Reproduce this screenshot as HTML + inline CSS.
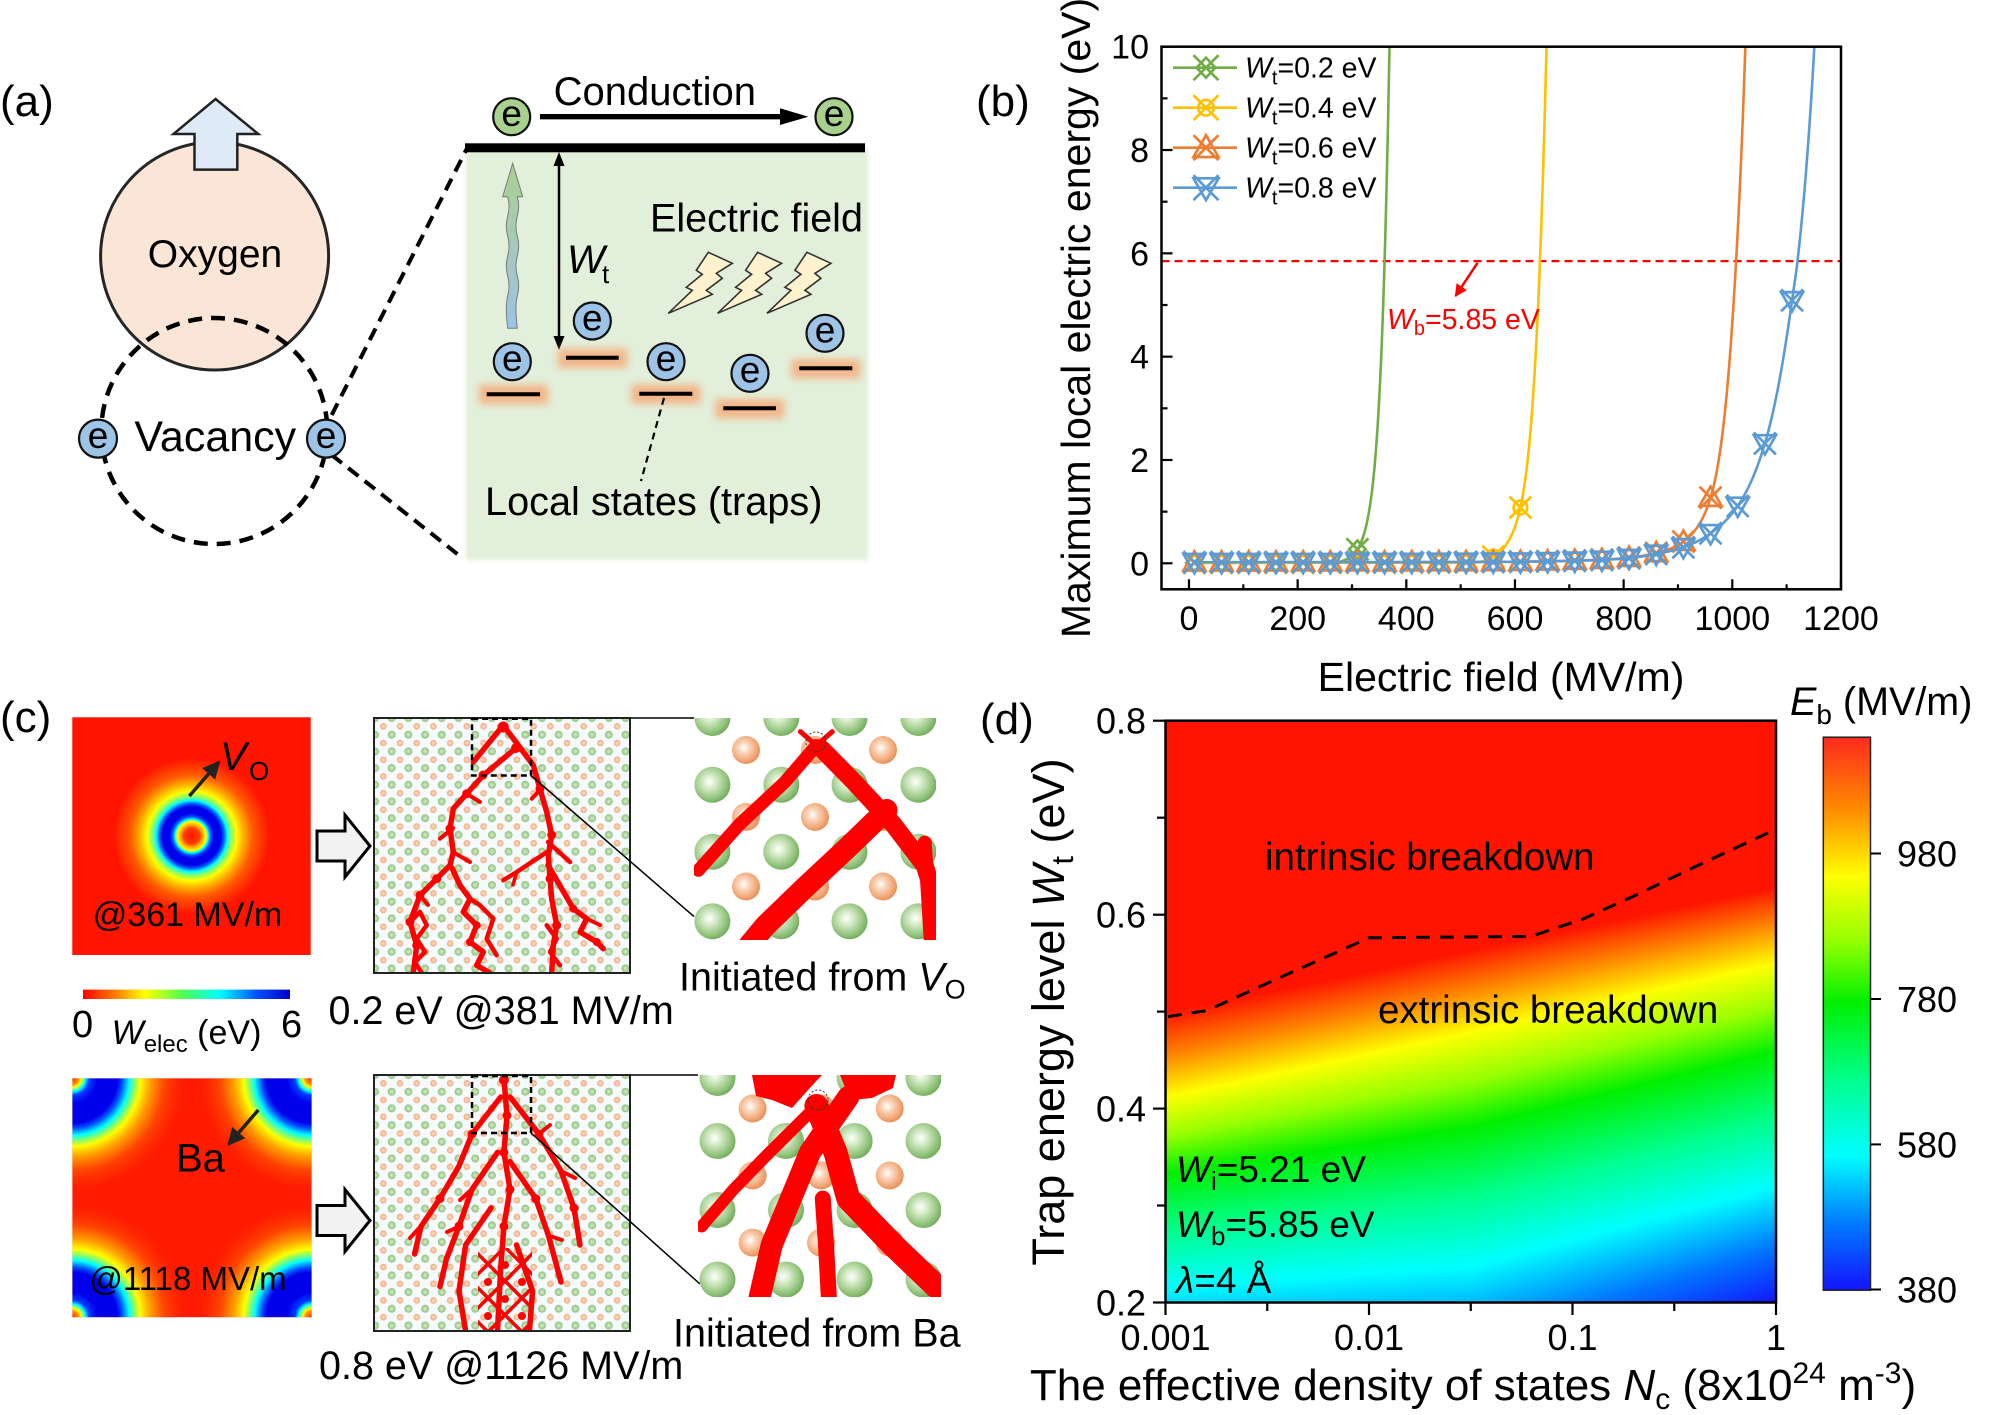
<!DOCTYPE html>
<html><head><meta charset="utf-8">
<style>
html,body{margin:0;padding:0;background:#fff;}
#wrap{position:relative;width:1997px;height:1415px;overflow:hidden;background:#fff;}
#hm{position:absolute;left:1166px;top:721px;width:610px;height:582px;}
#main{position:absolute;left:0;top:0;}
text{font-family:"Liberation Sans",Arial,sans-serif;fill:#000;}
</style></head><body><div id="wrap">
<canvas id="hm" width="610" height="582"></canvas>
<svg id="main" width="1997" height="1415" viewBox="0 0 1997 1415" xmlns="http://www.w3.org/2000/svg">
<defs>
<filter id="glow" x="-50%" y="-150%" width="200%" height="400%"><feGaussianBlur stdDeviation="4"/></filter>
<filter id="soft" x="-5%" y="-5%" width="110%" height="110%"><feGaussianBlur stdDeviation="2"/></filter>
<linearGradient id="wav" x1="0" y1="0" x2="0" y2="1"><stop offset="0" stop-color="#A9D18E"/><stop offset="1" stop-color="#9DC3E6"/></linearGradient>
<radialGradient id="ring" cx="191.7" cy="836" r="78" gradientUnits="userSpaceOnUse">
<stop offset="0" stop-color="#FF1400"/><stop offset="0.1" stop-color="#FF3C00"/><stop offset="0.143" stop-color="#FFAA00"/><stop offset="0.186" stop-color="#FFFF00"/><stop offset="0.214" stop-color="#00FFFF"/><stop offset="0.243" stop-color="#0064FF"/><stop offset="0.286" stop-color="#0000F0"/><stop offset="0.371" stop-color="#0000E6"/><stop offset="0.414" stop-color="#005AFF"/><stop offset="0.457" stop-color="#00FFFF"/><stop offset="0.5" stop-color="#78FF78"/><stop offset="0.571" stop-color="#FFFF00"/><stop offset="0.671" stop-color="#FFAA00"/><stop offset="0.786" stop-color="#FF5A00"/><stop offset="1" stop-color="#FF1400"/>
</radialGradient>
<radialGradient id="cTL" cx="72.3" cy="1078.3" r="125" gradientUnits="userSpaceOnUse">
<stop offset="0" stop-color="#FF2800"/><stop offset="0.048" stop-color="#FF8C00"/><stop offset="0.072" stop-color="#FFFF00"/><stop offset="0.104" stop-color="#00FFFF"/><stop offset="0.136" stop-color="#003CFF"/><stop offset="0.2" stop-color="#0000EB"/><stop offset="0.36" stop-color="#0000EB"/><stop offset="0.4" stop-color="#0050FF"/><stop offset="0.456" stop-color="#00FFFF"/><stop offset="0.496" stop-color="#78FF78"/><stop offset="0.544" stop-color="#FFFF00"/><stop offset="0.624" stop-color="#FFA000"/><stop offset="0.736" stop-color="#FF4600"/><stop offset="0.88" stop-color="#FF2000" stop-opacity="0.6"/><stop offset="1" stop-color="#FF1400" stop-opacity="0"/>
</radialGradient>
<radialGradient id="cTR" href="#cTL" cx="311.7" cy="1078.3"/>
<radialGradient id="cBL" href="#cTL" cx="72.3" cy="1317.3"/>
<radialGradient id="cBR" href="#cTL" cx="311.7" cy="1317.3"/>
<linearGradient id="cbar" x1="0" y1="0" x2="0" y2="1">
<stop offset="0" stop-color="#FF2A1E"/><stop offset="0.1316" stop-color="#FF8C00"/><stop offset="0.2513" stop-color="#FFFF00"/><stop offset="0.3684" stop-color="#96FF00"/><stop offset="0.4789" stop-color="#00F000"/><stop offset="0.6184" stop-color="#00FF8C"/><stop offset="0.7566" stop-color="#00FFFF"/><stop offset="0.8816" stop-color="#0078FF"/><stop offset="1" stop-color="#1414FF"/>
</linearGradient>
<linearGradient id="smallbar" x1="0" y1="0" x2="1" y2="0">
<stop offset="0" stop-color="#FF0000"/><stop offset="0.15" stop-color="#FF7800"/><stop offset="0.3" stop-color="#FFFF00"/><stop offset="0.48" stop-color="#50FF50"/><stop offset="0.66" stop-color="#00FFFF"/><stop offset="0.84" stop-color="#0050FF"/><stop offset="1" stop-color="#0000C8"/>
</linearGradient>
<radialGradient id="gs" cx="0.42" cy="0.42" r="0.62"><stop offset="0" stop-color="#FFFFFF"/><stop offset="0.3" stop-color="#D5EBC8"/><stop offset="0.75" stop-color="#93C47D"/><stop offset="1" stop-color="#6FA85A"/></radialGradient>
<radialGradient id="os" cx="0.42" cy="0.42" r="0.62"><stop offset="0" stop-color="#FFFFFF"/><stop offset="0.3" stop-color="#FAD7BE"/><stop offset="0.75" stop-color="#F2A676"/><stop offset="1" stop-color="#E58A50"/></radialGradient>
<radialGradient id="gsm" cx="0.5" cy="0.5" r="0.5"><stop offset="0" stop-color="#D8ECCD"/><stop offset="1" stop-color="#8FC27C"/></radialGradient>
<radialGradient id="osm" cx="0.5" cy="0.5" r="0.5"><stop offset="0" stop-color="#FCE3D2"/><stop offset="1" stop-color="#F2A878"/></radialGradient>
<clipPath id="clipB"><rect x="1161.5" y="46.7" width="679.5" height="542.6"/></clipPath>
<clipPath id="clipHm2"><rect x="72.3" y="1078.3" width="239.4" height="239"/></clipPath>
<clipPath id="clipM1"><rect x="374" y="718" width="256" height="255"/></clipPath>
<clipPath id="clipM2"><rect x="374" y="1075" width="256" height="256"/></clipPath>
<clipPath id="clipNet"><rect x="478" y="1248" width="54" height="83"/></clipPath>
<clipPath id="clipR1"><rect x="694" y="718" width="242" height="222"/></clipPath>
<clipPath id="clipR2"><rect x="698" y="1075" width="243" height="222"/></clipPath>
<marker id="ahk" viewBox="0 0 10 10" refX="9" refY="5" markerWidth="5" markerHeight="5" orient="auto"><path d="M0,0L10,5L0,10Z" fill="#222"/></marker>
<marker id="ahr" viewBox="0 0 10 10" refX="9" refY="5" markerWidth="5" markerHeight="5" orient="auto"><path d="M0,0L10,5L0,10Z" fill="#f00"/></marker>
</defs>

<!-- ================= PANEL (a) ================= -->
<text x="0" y="116" font-size="44">(a)</text>
<rect x="466" y="148" width="402" height="412" fill="#E2EFDA" filter="url(#soft)"/>
<line x1="331.7" y1="415" x2="467.5" y2="147.3" stroke="#000" stroke-width="4" stroke-dasharray="13 8"/>
<line x1="331.7" y1="455" x2="462.4" y2="558" stroke="#000" stroke-width="4" stroke-dasharray="13 8"/>
<circle cx="214.6" cy="256" r="114" fill="#FBE5D6" stroke="#262626" stroke-width="3"/>
<circle cx="214.3" cy="431" r="113" fill="none" stroke="#000" stroke-width="4.5" stroke-dasharray="14 9"/>
<path d="M215.6,99 L258.3,134 L237.3,134 L237.3,169.6 L194.5,169.6 L194.5,134 L173.5,134 Z" fill="#DEEBF7" stroke="#222" stroke-width="2.5" stroke-linejoin="miter"/>
<text x="215" y="267" font-size="39" text-anchor="middle">Oxygen</text>
<text x="215.3" y="451" font-size="43" text-anchor="middle">Vacancy</text>
<g stroke="#111" stroke-width="2.2">
<circle cx="98" cy="438.6" r="19" fill="#9DC3E6"/>
<circle cx="326" cy="438.6" r="19" fill="#9DC3E6"/>
</g>
<text x="98" y="448" font-size="37" text-anchor="middle">e</text>
<text x="326" y="448" font-size="37" text-anchor="middle">e</text>
<rect x="465" y="143.3" width="400" height="9" fill="#000"/>
<text x="553.6" y="105" font-size="40">Conduction</text>
<line x1="540" y1="116.7" x2="782" y2="116.7" stroke="#000" stroke-width="5.3"/>
<path d="M780,108.3 L808.3,116.7 L780,125 Z" fill="#000"/>
<g stroke="#111" stroke-width="2.2">
<circle cx="511.7" cy="116.7" r="18.5" fill="#A9D18E"/>
<circle cx="834" cy="116.7" r="18.5" fill="#A9D18E"/>
</g>
<text x="511.7" y="126" font-size="37" text-anchor="middle">e</text>
<text x="834" y="126" font-size="37" text-anchor="middle">e</text>
<path d="M512.7,163.3 L522.7,196.7 L517.3,196.7 Q520,206 517.3,216 Q514.6,226 517.3,236 Q520,246 517.3,256 Q514.6,266 517.3,276 Q520,286 517.3,296 Q514.6,306 517.3,328.3 L507.7,328.3 Q505,306 507.7,296 Q510.4,286 507.7,276 Q505,266 507.7,256 Q510.4,246 507.7,236 Q505,226 507.7,216 Q510.4,206 507.7,196.7 L502.7,196.7 Z" fill="url(#wav)" stroke="#7a7a7a" stroke-width="1"/>
<line x1="559" y1="162" x2="559" y2="340" stroke="#000" stroke-width="2.5"/>
<path d="M559,152 L564.5,166 L553.5,166 Z" fill="#000"/>
<path d="M559,350 L564.5,336 L553.5,336 Z" fill="#000"/>
<text x="567" y="273" font-size="40" font-style="italic">W</text>
<text x="602" y="283" font-size="26">t</text>
<text x="650" y="231.7" font-size="39.5">Electric field</text>
<g fill="#FFF2CC" stroke="#333" stroke-width="1.6" stroke-linejoin="miter">
<polygon transform="translate(708.3,252.3)" points="0,0 24,11 8,21 14,26 -2,38 4,42 -40,61 -16,38 -22,35 -6,22 -12,18"/>
<polygon transform="translate(757.6,252.3)" points="0,0 24,11 8,21 14,26 -2,38 4,42 -40,61 -16,38 -22,35 -6,22 -12,18"/>
<polygon transform="translate(806.9,252.3)" points="0,0 24,11 8,21 14,26 -2,38 4,42 -40,61 -16,38 -22,35 -6,22 -12,18"/>
</g>
<g fill="#F4B183" opacity="0.95" filter="url(#glow)">
<rect x="479" y="385" width="69" height="19"/>
<rect x="558" y="348.7" width="69" height="19"/>
<rect x="631.3" y="384.7" width="69" height="19"/>
<rect x="715.3" y="399.3" width="69" height="19"/>
<rect x="791.3" y="359.3" width="69" height="19"/>
</g>
<g stroke="#000" stroke-width="4">
<line x1="486.7" y1="394.3" x2="540" y2="394.3"/>
<line x1="566" y1="357.7" x2="618.7" y2="357.7"/>
<line x1="639.3" y1="393.7" x2="692.3" y2="393.7"/>
<line x1="723.3" y1="408.3" x2="776" y2="408.3"/>
<line x1="799.3" y1="368.3" x2="852.3" y2="368.3"/>
</g>
<g stroke="#111" stroke-width="2.2" fill="#9DC3E6">
<circle cx="512.3" cy="361.7" r="18.5"/>
<circle cx="592.3" cy="321" r="18.5"/>
<circle cx="666" cy="361.7" r="18.5"/>
<circle cx="750" cy="373.3" r="18.5"/>
<circle cx="825" cy="333.3" r="18.5"/>
</g>
<g font-size="37" text-anchor="middle">
<text x="512.3" y="371">e</text><text x="592.3" y="330.3">e</text><text x="666" y="371">e</text><text x="750" y="382.6">e</text><text x="825" y="342.6">e</text>
</g>
<line x1="664" y1="398" x2="641" y2="481" stroke="#000" stroke-width="2.2" stroke-dasharray="7 5"/>
<text x="485" y="515" font-size="39.7">Local states (traps)</text>

<!-- ================= PANEL (b) ================= -->
<text x="976" y="116" font-size="44">(b)</text>
<g id="bcurves" clip-path="url(#clipB)">
<line x1="1161.5" y1="261.1" x2="1841" y2="261.1" stroke="#FF0000" stroke-width="2.2" stroke-dasharray="8 5"/>
</g>
<line x1="1477.6" y1="262.8" x2="1455.5" y2="296" stroke="#f00" stroke-width="2.5" marker-end="url(#ahr)"/>
<text x="1387" y="329" font-size="28.5" style="fill:#f00"><tspan font-style="italic">W</tspan><tspan font-size="20" dy="6">b</tspan><tspan dy="-6">=5.85 eV</tspan></text>
<rect x="1161.5" y="46.7" width="679.5" height="542.6" fill="none" stroke="#000" stroke-width="2.5"/>
<g id="bticks" stroke="#000" stroke-width="2.2"></g>
<g font-size="34" text-anchor="end">
<text x="1149" y="575.3">0</text><text x="1149" y="472">2</text><text x="1149" y="368.7">4</text><text x="1149" y="265.4">6</text><text x="1149" y="162">8</text><text x="1149" y="58.7">10</text>
</g>
<g font-size="34" text-anchor="middle">
<text x="1189" y="630">0</text><text x="1297.7" y="630">200</text><text x="1406.3" y="630">400</text><text x="1515" y="630">600</text><text x="1623.6" y="630">800</text><text x="1732.3" y="630">1000</text><text x="1841" y="630">1200</text>
</g>
<text x="1501" y="691" font-size="41" text-anchor="middle">Electric field (MV/m)</text>
<text transform="translate(1090,318) rotate(-90)" font-size="41" text-anchor="middle">Maximum local electric energy (eV)</text>
<g id="blegend"></g>
<g font-size="28.5">
<text x="1245" y="77.7"><tspan font-style="italic">W</tspan><tspan font-size="20" dy="7">t</tspan><tspan dy="-7">=0.2 eV</tspan></text>
<text x="1245" y="117.7"><tspan font-style="italic">W</tspan><tspan font-size="20" dy="7">t</tspan><tspan dy="-7">=0.4 eV</tspan></text>
<text x="1245" y="157.7"><tspan font-style="italic">W</tspan><tspan font-size="20" dy="7">t</tspan><tspan dy="-7">=0.6 eV</tspan></text>
<text x="1245" y="197.7"><tspan font-style="italic">W</tspan><tspan font-size="20" dy="7">t</tspan><tspan dy="-7">=0.8 eV</tspan></text>
</g>

<!-- ================= PANEL (c) ================= -->
<text x="0" y="732" font-size="44">(c)</text>
<rect x="72.3" y="717.3" width="238.4" height="237.7" fill="url(#ring)"/>
<line x1="189.3" y1="796" x2="219" y2="762" stroke="#222" stroke-width="3.5" marker-end="url(#ahk)"/>
<text x="220" y="770" font-size="40" font-style="italic">V</text>
<text x="249" y="780" font-size="26">O</text>
<text x="187.5" y="926" font-size="34" text-anchor="middle">@361 MV/m</text>
<rect x="83" y="989.6" width="207" height="9.4" fill="url(#smallbar)"/>
<text x="72" y="1037" font-size="38">0</text>
<text x="281" y="1037" font-size="38">6</text>
<text x="111.6" y="1044" font-size="34"><tspan font-style="italic">W</tspan><tspan font-size="24" dy="8">elec</tspan><tspan dy="-8"> (eV)</tspan></text>
<g clip-path="url(#clipHm2)">
<rect x="72.3" y="1078.3" width="239.4" height="239" fill="#FF1A00"/>
<rect x="72.3" y="1078.3" width="239.4" height="239" fill="url(#cTL)"/>
<rect x="72.3" y="1078.3" width="239.4" height="239" fill="url(#cTR)"/>
<rect x="72.3" y="1078.3" width="239.4" height="239" fill="url(#cBL)"/>
<rect x="72.3" y="1078.3" width="239.4" height="239" fill="url(#cBR)"/>
</g>
<line x1="258.3" y1="1110" x2="228.5" y2="1144.5" stroke="#222" stroke-width="3.5" marker-end="url(#ahk)"/>
<text x="176" y="1171.7" font-size="40">Ba</text>
<text x="188" y="1290" font-size="33" text-anchor="middle">@1118 MV/m</text>
<g fill="#F2F2F2" stroke="#000" stroke-width="3" stroke-linejoin="miter">
<path d="M317,831 L345,831 L345,815 L370,846 L345,877 L345,861 L317,861 Z"/>
<path d="M317,1205.5 L345,1205.5 L345,1189.5 L370,1220.5 L345,1251.5 L345,1235.5 L317,1235.5 Z"/>
</g>
<rect x="374" y="718" width="256" height="255" fill="#F5FAFD"/>
<rect x="374" y="1075" width="256" height="256" fill="#F5FAFD"/>
<g id="lat1" clip-path="url(#clipM1)"></g>
<g id="lat2" clip-path="url(#clipM2)"></g>
<g clip-path="url(#clipM1)" fill="none" stroke="#FF0000" stroke-width="5.5" stroke-linejoin="round" stroke-linecap="round">
<polyline points="503.3,725.3 533.3,765.3 540,788.7 546.7,812 551.7,835 548.3,855 550,878.7 551.7,898.7 556.7,925.3 553.3,945 551.7,973"/>
<polyline points="513.3,750.3 483.3,775.3 466.7,793.7 453.3,808.7 450,828.7 453.3,852 450,865.3 436.7,878.7 420,895.3 410,922 416.7,945.3 413.3,973"/>
<polyline points="503.3,725.3 473.3,762"/>
<polyline points="452,868 460,885.3 470,898.7 463.3,912 476.7,925.3 470,942 483.3,952 476.7,965.3 490,973"/>
<polyline points="470,898.7 480,905.3 493.3,918.7 486.7,938.7 496.7,955.3" stroke-width="4.5"/>
<polyline points="550,850 516.7,872 503.3,880.3" stroke-width="4.5"/>
<polyline points="516.7,872 513,885" stroke-width="3.5"/>
<polyline points="548,865 573.3,908.7 586.7,918.7 580,932 596.7,942 603.3,948.7"/>
<polyline points="586.7,918.7 600,925" stroke-width="4"/>
<polyline points="548,842 570,862" stroke-width="4.5"/>
<polyline points="466.7,793.7 480,802" stroke-width="4"/>
<polyline points="540,790 531.7,798.7" stroke-width="4"/>
<polyline points="453,828 440,838.7" stroke-width="4"/>
<polyline points="453,852 470,862" stroke-width="4"/>
<polyline points="410,922 420,912 426.7,925.3 416.7,938.7 425,952 415,962 421.7,973" stroke-width="4.5"/>
<polyline points="546.7,925.3 556.7,938.7 550,952 560,965.3" stroke-width="4.5"/>
<polyline points="420,895.3 428,905" stroke-width="4"/>
</g>
<g clip-path="url(#clipM1)" fill="#FF0000">
<circle cx="503.3" cy="727" r="5.5"/><circle cx="516" cy="748" r="5"/><circle cx="483" cy="775" r="4.5"/><circle cx="466.7" cy="793.7" r="4.5"/><circle cx="450" cy="828.7" r="4.5"/><circle cx="436.7" cy="878.7" r="4.5"/><circle cx="420" cy="895.3" r="4.5"/><circle cx="410" cy="922" r="4.5"/><circle cx="416.7" cy="945.3" r="4.5"/><circle cx="540" cy="788.7" r="4.5"/><circle cx="551.7" cy="835" r="4.5"/><circle cx="550" cy="878.7" r="4.5"/><circle cx="556.7" cy="925.3" r="4.5"/><circle cx="470" cy="942" r="4"/><circle cx="476.7" cy="925.3" r="4"/><circle cx="573.3" cy="908.7" r="4"/><circle cx="596.7" cy="942" r="4"/>
</g>
<g clip-path="url(#clipM2)" fill="none" stroke="#FF0000" stroke-width="5.5" stroke-linejoin="round" stroke-linecap="round">
<polyline points="503.9,1078.4 507,1115.4 503.9,1152.4 510,1189.4 503.9,1226.4 500.7,1268 497.5,1331"/>
<polyline points="500.7,1097 472,1134 459,1166 440,1198.6 421,1226.4 414.6,1254"/>
<polyline points="497.5,1152.4 472,1189.4 459,1226.4 446.5,1258.8 440,1286.5"/>
<polyline points="491,1208 465.6,1245 459,1291 465.6,1331"/>
<polyline points="510,1097 539,1134 561,1171 574,1208 580,1245"/>
<polyline points="510,1161.6 535.8,1198.6 548.5,1235.6 561,1282"/>
<polyline points="516.6,1245 532.6,1291 529.4,1331"/>
<polyline points="472,1189 460,1200" stroke-width="4"/>
<polyline points="539,1134 550,1125" stroke-width="4"/>
<polyline points="421,1226 410,1238" stroke-width="4"/>
<polyline points="561,1171 575,1178" stroke-width="4"/>
<polyline points="548.5,1235.6 562,1240" stroke-width="4"/>
<polyline points="459,1226.4 447,1232" stroke-width="4"/>
</g>
<g clip-path="url(#clipNet)" fill="none" stroke="#FF0000" stroke-width="3.5">
<line x1="438" y1="1248" x2="538" y2="1348"/><line x1="472" y1="1248" x2="572" y2="1348"/><line x1="506" y1="1248" x2="606" y2="1348"/><line x1="404" y1="1248" x2="504" y2="1348"/>
<line x1="572" y1="1248" x2="472" y2="1348"/><line x1="538" y1="1248" x2="438" y2="1348"/><line x1="606" y1="1248" x2="506" y2="1348"/><line x1="504" y1="1248" x2="404" y2="1348"/>
</g>
<g clip-path="url(#clipNet)" fill="#FF0000">
<circle cx="505" cy="1265" r="4"/><circle cx="488" cy="1282" r="4"/><circle cx="522" cy="1282" r="4"/><circle cx="505" cy="1299" r="4"/><circle cx="488" cy="1316" r="4"/><circle cx="522" cy="1316" r="4"/>
</g>
<g clip-path="url(#clipM2)" fill="#FF0000">
<circle cx="503.9" cy="1080" r="5"/><circle cx="507" cy="1115.4" r="4.5"/><circle cx="503.9" cy="1152.4" r="4.5"/><circle cx="510" cy="1189.4" r="4.5"/><circle cx="503.9" cy="1226.4" r="4.5"/><circle cx="472" cy="1134" r="4.5"/><circle cx="440" cy="1198.6" r="4.5"/><circle cx="539" cy="1134" r="4.5"/><circle cx="574" cy="1208" r="4.5"/><circle cx="459" cy="1226.4" r="4.5"/><circle cx="535.8" cy="1198.6" r="4.5"/>
</g>
<rect x="374" y="718" width="256" height="255" fill="none" stroke="#222" stroke-width="2"/>
<rect x="374" y="1075" width="256" height="256" fill="none" stroke="#222" stroke-width="2"/>
<g fill="none" stroke="#000" stroke-width="2.5" stroke-dasharray="6 4">
<rect x="472" y="718.7" width="59" height="56.8"/>
<rect x="472" y="1076" width="59" height="57"/>
</g>
<g stroke="#000" stroke-width="1.5">
<line x1="630" y1="718" x2="694" y2="718"/>
<line x1="531" y1="775.5" x2="694" y2="916.6"/>
<line x1="630" y1="1075" x2="698" y2="1075"/>
<line x1="531" y1="1133" x2="700" y2="1284"/>
</g>
<g clip-path="url(#clipR1)">
<g fill="url(#gs)">
<circle cx="712.4" cy="718" r="18"/><circle cx="781.3" cy="718" r="18"/><circle cx="849.5" cy="718" r="18"/><circle cx="918.4" cy="718" r="18"/>
<circle cx="712.4" cy="784.8" r="18"/><circle cx="781.3" cy="784.8" r="18"/><circle cx="849.5" cy="784.8" r="18"/><circle cx="918.4" cy="784.8" r="18"/>
<circle cx="712.4" cy="851.8" r="18"/><circle cx="781.3" cy="851.8" r="18"/><circle cx="849.5" cy="851.8" r="18"/><circle cx="918.4" cy="851.8" r="18"/>
<circle cx="712.4" cy="921.2" r="18"/><circle cx="781.3" cy="921.2" r="18"/><circle cx="849.5" cy="921.2" r="18"/><circle cx="918.4" cy="921.2" r="18"/>
</g>
<g fill="url(#os)">
<circle cx="746" cy="750" r="14"/><circle cx="815" cy="750" r="14"/><circle cx="883" cy="750" r="14"/>
<circle cx="746" cy="817" r="14"/><circle cx="815" cy="817" r="14"/><circle cx="883" cy="817" r="14"/>
<circle cx="746" cy="886.5" r="14"/><circle cx="815" cy="886.5" r="14"/><circle cx="883" cy="886.5" r="14"/>
</g>
<g fill="none" stroke="#FF0000" stroke-linejoin="round" stroke-linecap="round">
<polyline points="816.4,745.5 784.5,782.5 739.8,824 698.4,870.3" stroke-width="13"/>
<polyline points="822.8,750 854.7,782.5 893,824 924.8,865.7 936.3,902.7" stroke-width="18"/>
<polyline points="886.5,810 848.3,847 803.6,888.8 765.4,925.8 749.4,945" stroke-width="22"/>
<polyline points="924.8,842.6 931,945" stroke-width="14"/>
<polyline points="800.4,731.6 816.4,745.5 832.3,731.6" stroke-width="5"/>
</g>
<circle cx="816" cy="742" r="10" fill="none" stroke="#333" stroke-width="1" stroke-dasharray="2 2"/>
</g>
<g clip-path="url(#clipR2)">
<g fill="url(#gs)">
<circle cx="717.5" cy="1078" r="18"/><circle cx="786" cy="1078" r="18"/><circle cx="854.6" cy="1078" r="18"/><circle cx="923.5" cy="1078" r="18"/>
<circle cx="717.5" cy="1141" r="18"/><circle cx="786" cy="1141" r="18"/><circle cx="854.6" cy="1141" r="18"/><circle cx="923.5" cy="1141" r="18"/>
<circle cx="717.5" cy="1210" r="18"/><circle cx="786" cy="1210" r="18"/><circle cx="854.6" cy="1210" r="18"/><circle cx="923.5" cy="1210" r="18"/>
<circle cx="717.5" cy="1279.5" r="18"/><circle cx="786" cy="1279.5" r="18"/><circle cx="854.6" cy="1279.5" r="18"/><circle cx="923.5" cy="1279.5" r="18"/>
</g>
<g fill="url(#os)">
<circle cx="752.6" cy="1108.5" r="14"/><circle cx="821" cy="1108.5" r="14"/><circle cx="889.7" cy="1108.5" r="14"/>
<circle cx="752.6" cy="1175.5" r="14"/><circle cx="821" cy="1175.5" r="14"/><circle cx="889.7" cy="1175.5" r="14"/>
<circle cx="752.6" cy="1242.6" r="14"/><circle cx="821" cy="1242.6" r="14"/><circle cx="889.7" cy="1242.6" r="14"/>
</g>
<g fill="#FF0000">
<polygon points="752,1075 822,1075 808,1090 792,1108 772,1100 756,1096"/>
<polygon points="840,1075 896,1075 893,1088 872,1098 850,1100"/>
</g>
<g fill="none" stroke="#FF0000" stroke-linejoin="round" stroke-linecap="round">
<polyline points="816.4,1106 835.5,1152.4 848.3,1198.6 893,1245 940,1290" stroke-width="24"/>
<polyline points="848.3,1097 810,1152.4 790.9,1198.6 771.7,1245 759,1300" stroke-width="22"/>
<polyline points="816.4,1106 765,1157 733.5,1189.5 701.6,1226.5" stroke-width="12"/>
<polyline points="822.8,1198.6 826,1245 829,1300" stroke-width="16"/>
</g>
<circle cx="818" cy="1100" r="10" fill="none" stroke="#333" stroke-width="1" stroke-dasharray="2 2"/>
</g>
<text x="679" y="990.5" font-size="39.5">Initiated from <tspan font-style="italic">V</tspan><tspan font-size="27" dy="8">O</tspan></text>
<text x="328.5" y="1024" font-size="39.5">0.2 eV @381 MV/m</text>
<text x="673" y="1346.6" font-size="39.5">Initiated from Ba</text>
<text x="319" y="1379" font-size="39.5">0.8 eV @1126 MV/m</text>

<!-- ================= PANEL (d) ================= -->
<text x="980" y="734" font-size="44">(d)</text>
<polyline points="1168,1016.6 1207,1010.5 1259,987 1317,961 1369,937.8 1531,936.4 1583,919 1635,895.6 1693.5,867.5 1776.5,829" fill="none" stroke="#000" stroke-width="3" stroke-dasharray="14 10"/>
<rect x="1165.5" y="720.7" width="610.5" height="581.8" fill="none" stroke="#000" stroke-width="2.5"/>
<g stroke="#000" stroke-width="2.2">
<line x1="1165.5" y1="1302.5" x2="1165.5" y2="1315"/><line x1="1267.25" y1="1302.5" x2="1267.25" y2="1311"/><line x1="1369" y1="1302.5" x2="1369" y2="1315"/><line x1="1470.75" y1="1302.5" x2="1470.75" y2="1311"/><line x1="1572.5" y1="1302.5" x2="1572.5" y2="1315"/><line x1="1674.25" y1="1302.5" x2="1674.25" y2="1311"/><line x1="1776" y1="1302.5" x2="1776" y2="1315"/>
<line x1="1153" y1="720.7" x2="1165.5" y2="720.7"/><line x1="1157" y1="817.7" x2="1165.5" y2="817.7"/><line x1="1153" y1="914.7" x2="1165.5" y2="914.7"/><line x1="1157" y1="1011.6" x2="1165.5" y2="1011.6"/><line x1="1153" y1="1108.6" x2="1165.5" y2="1108.6"/><line x1="1157" y1="1205.5" x2="1165.5" y2="1205.5"/><line x1="1153" y1="1302.5" x2="1165.5" y2="1302.5"/>
</g>
<g font-size="36" text-anchor="end">
<text x="1146" y="733.7">0.8</text><text x="1146" y="927.7">0.6</text><text x="1146" y="1121.6">0.4</text><text x="1146" y="1315.5">0.2</text>
</g>
<g font-size="36" text-anchor="middle">
<text x="1165.5" y="1350">0.001</text><text x="1369" y="1350">0.01</text><text x="1572.5" y="1350">0.1</text><text x="1776" y="1350">1</text>
</g>
<text x="1473" y="1400" font-size="44" text-anchor="middle">The effective density of states <tspan font-style="italic">N</tspan><tspan font-size="30" dy="9">c</tspan><tspan dy="-9"> (8x10</tspan><tspan font-size="30" dy="-17">24</tspan><tspan dy="17"> m</tspan><tspan font-size="30" dy="-17">-3</tspan><tspan dy="17">)</tspan></text>
<text transform="translate(1064,1012) rotate(-90)" font-size="45" text-anchor="middle">Trap energy level <tspan font-style="italic">W</tspan><tspan font-size="31" dy="9">t</tspan><tspan dy="-9"> (eV)</tspan></text>
<text x="1265" y="870" font-size="38.5">intrinsic breakdown</text>
<text x="1378" y="1023" font-size="38.5">extrinsic breakdown</text>
<text x="1176" y="1182" font-size="37"><tspan font-style="italic">W</tspan><tspan font-size="26" dy="8">i</tspan><tspan dy="-8">=5.21 eV</tspan></text>
<text x="1176" y="1237" font-size="37"><tspan font-style="italic">W</tspan><tspan font-size="26" dy="8">b</tspan><tspan dy="-8">=5.85 eV</tspan></text>
<text x="1176" y="1293" font-size="37"><tspan font-style="italic">λ</tspan>=4 Å</text>
<rect x="1823.3" y="737.2" width="47.2" height="553" fill="url(#cbar)" stroke="#222" stroke-width="1.5"/>
<g stroke="#000" stroke-width="2"><line x1="1870.5" y1="853.5" x2="1881" y2="853.5"/><line x1="1870.5" y1="999" x2="1881" y2="999"/><line x1="1870.5" y1="1144.4" x2="1881" y2="1144.4"/><line x1="1870.5" y1="1289.5" x2="1881" y2="1289.5"/></g>
<g font-size="36"><text x="1897" y="866.5">980</text><text x="1897" y="1012">780</text><text x="1897" y="1157.4">580</text><text x="1897" y="1302.5">380</text></g>
<text x="1790" y="715" font-size="39.5"><tspan font-style="italic">E</tspan><tspan font-size="28" dy="9">b</tspan><tspan dy="-9"> (MV/m)</tspan></text>
</svg>
</div>
<script>
(function(){
var NS="http://www.w3.org/2000/svg";
function el(tag,attrs,parent){var e=document.createElementNS(NS,tag);for(var k in attrs)e.setAttribute(k,attrs[k]);if(parent)parent.appendChild(e);return e;}
var X=function(v){return 1189+0.5433*v;}, Y=function(v){return 563.3-51.66*v;};
var tk=document.getElementById('bticks');
for(var v=0;v<=1200;v+=100){var maj=(v%200===0);el('line',{x1:X(v),y1:589.3,x2:X(v),y2:589.3-(maj?10:5)},tk);}
for(var v=0;v<=10;v+=1){var maj=(v%2===0);el('line',{x1:1161.5,y1:Y(v),x2:1161.5+(maj?11:6),y2:Y(v)},tk);}
function mono(xs,ys){var n=xs.length,d=[],m=new Array(n),i;
 for(i=0;i<n-1;i++)d.push((ys[i+1]-ys[i])/(xs[i+1]-xs[i]));
 m[0]=d[0];m[n-1]=d[n-2];
 for(i=1;i<n-1;i++){m[i]=(d[i-1]*d[i]<=0)?0:(d[i-1]+d[i])/2;}
 for(i=0;i<n-1;i++){if(d[i]===0){m[i]=0;m[i+1]=0;continue;}var a=m[i]/d[i],b=m[i+1]/d[i],s=a*a+b*b;if(s>9){var t=3/Math.sqrt(s);m[i]=t*a*d[i];m[i+1]=t*b*d[i];}}
 return function(x){if(x<=xs[0])return ys[0];if(x>=xs[n-1])return ys[n-1];var i=0;while(x>xs[i+1])i++;var h=xs[i+1]-xs[i],t=(x-xs[i])/h,t2=t*t,t3=t2*t;
  return (2*t3-3*t2+1)*ys[i]+(t3-2*t2+t)*h*m[i]+(-2*t3+3*t2)*ys[i+1]+(t3-t2)*h*m[i+1];};}
function mk(g,cx,cy,h,s,c,w){var d='M'+(cx-h)+','+(cy-h)+'L'+(cx+h)+','+(cy+h)+'M'+(cx-h)+','+(cy+h)+'L'+(cx+h)+','+(cy-h);
 if(s==='dia')d+='M'+cx+','+(cy-h*0.8)+'L'+(cx+h*0.75)+','+cy+'L'+cx+','+(cy+h*0.8)+'L'+(cx-h*0.75)+','+cy+'Z';
 if(s==='tri')d+='M'+cx+','+(cy-h)+'L'+(cx+h)+','+(cy+h*0.75)+'L'+(cx-h)+','+(cy+h*0.75)+'Z';
 if(s==='tdn')d+='M'+(cx-h)+','+(cy-h*0.75)+'L'+(cx+h)+','+(cy-h*0.75)+'L'+cx+','+(cy+h)+'Z';
 el('path',{d:d,fill:'none',stroke:c,'stroke-width':w},g);
 if(s==='cir')el('circle',{cx:cx,cy:cy,r:h*0.62,fill:'none',stroke:c,'stroke-width':w},g);}
var series=[
 {c:'#70AD47',s:'dia',a:[[10,0.01],[260,0.013],[290,0.08],[310,0.27],[335,1.25],[360,5.85],[369,10],[376,15]],mEnd:310},
 {c:'#FFC000',s:'cir',a:[[10,0.01],[520,0.014],[540,0.04],[560,0.13],[585,0.38],[610,1.08],[646,5.85],[658,10],[666,14]],mEnd:610},
 {c:'#ED7D31',s:'tri',a:[[10,0.02],[600,0.03],[700,0.05],[760,0.07],[810,0.11],[860,0.2],[910,0.42],[960,1.27],[1007,5.85],[1024,10],[1032,13]],mEnd:960},
 {c:'#5B9BD5',s:'tdn',a:[[10,0.02],[600,0.03],[700,0.045],[760,0.065],[810,0.1],[860,0.18],[910,0.31],[960,0.58],[1010,1.11],[1060,2.32],[1110,5.09],[1120,5.85],[1151,10],[1160,12]],mEnd:1110}];
var gB=document.getElementById('bcurves');
series.forEach(function(S){
 var xs=S.a.map(function(p){return p[0];}),ys=S.a.map(function(p){return Math.log(p[1]);});
 var f=mono(xs,ys),pts=[],xe=xs[xs.length-1];
 for(var x=10;x<=xe;x+=0.5){var y=Math.exp(f(x));pts.push(X(x).toFixed(2)+','+Y(y).toFixed(2));if(y>11)break;}
 el('polyline',{points:pts.join(' '),fill:'none',stroke:S.c,'stroke-width':2.6,'stroke-linejoin':'round'},gB);
 for(var mx=10;mx<=S.mEnd+0.1;mx+=50){mk(gB,X(mx),Y(Math.exp(f(mx))),11,S.s,S.c,2.7);}
});
var gL=document.getElementById('blegend');
series.forEach(function(S,i){var cy=67.7+40*i;el('line',{x1:1173,y1:cy,x2:1237,y2:cy,stroke:S.c,'stroke-width':2.6},gL);mk(gL,1206,cy,12.5,S.s,S.c,2.7);});
function lattice(id,y0,y1){var g=document.getElementById(id);
 for(var j=-1;j<18;j++){var yg=y0+16.7*j,yo=yg+8.35;
  for(var i=-1;i<17;i++){var xg=391.7+16.7*i,xo=383.35+16.7*i;
   if(yg>y0-6&&yg<y1+6&&xg>368&&xg<636)el('circle',{cx:xg,cy:yg,r:4,fill:'url(#gsm)'},g);
   if(yo>y0-6&&yo<y1+6&&xo>368&&xo<636)el('circle',{cx:xo,cy:yo,r:3.3,fill:'url(#osm)'},g);}}}
lattice('lat1',718,973);lattice('lat2',1075,1331);
var cv=document.getElementById('hm');if(!cv.getContext)return;var ctx=cv.getContext('2d');
var W=610,H=582,img=ctx.createImageData(W,H),D=img.data;
var lv=[380,565,776,949,1040,1140];
var c0=[0.10,0.215,0.333,0.412,0.452,0.499],c1=[0.09,0.238,0.381,0.479,0.52,0.564],c2=[0.2,0.321,0.459,0.55,0.589,0.629];
var st=[[380,[20,20,255]],[470,[0,120,255]],[565,[0,255,255]],[670,[0,255,140]],[776,[0,240,0]],[860,[150,255,0]],[949,[255,255,0]],[1040,[255,140,0]],[1140,[255,20,0]]];
function col(v){if(v<=380)return st[0][1];if(v>=1140)return st[8][1];
 for(var i=0;i<8;i++){if(v<=st[i+1][0]){var t=(v-st[i][0])/(st[i+1][0]-st[i][0]),a=st[i][1],b=st[i+1][1];return [a[0]+(b[0]-a[0])*t,a[1]+(b[1]-a[1])*t,a[2]+(b[2]-a[2])*t];}}return st[8][1];}
for(var px=0;px<W;px++){var u=(px+0.5)/W,ly=[],k;
 for(k=0;k<6;k++){ly.push(u<0.5?c0[k]+(c1[k]-c0[k])*u*2:c1[k]+(c2[k]-c1[k])*(u-0.5)*2);}
 for(var py=0;py<H;py++){var yv=0.8-(py+0.5)/H*0.6,v;
  if(yv>=ly[5])v=1140;else if(yv<=ly[0])v=380;else{for(k=0;k<5;k++){if(yv<ly[k+1]){v=lv[k]+(yv-ly[k])/(ly[k+1]-ly[k])*(lv[k+1]-lv[k]);break;}}}
  var c=col(v),o=(py*W+px)*4;D[o]=c[0];D[o+1]=c[1];D[o+2]=c[2];D[o+3]=255;}}
ctx.putImageData(img,0,0);
})();
</script>
</body></html>
